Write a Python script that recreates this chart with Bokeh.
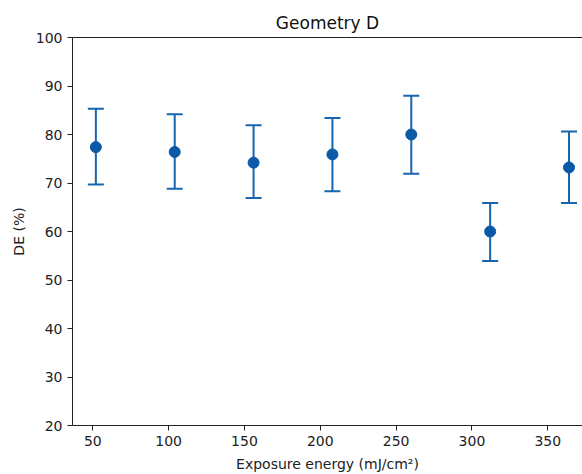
from bokeh.plotting import figure
from bokeh.models import ColumnDataSource, Whisker, TeeHead, LinearAxis, FixedTicker, Range1d
from bokeh.embed import file_html
from bokeh.resources import INLINE

# Data
exposure = [52, 104, 156, 208, 260, 312, 364]
de_mean = [77.4, 76.4, 74.2, 75.9, 80.0, 60.0, 73.2]
de_upper = [85.3, 84.2, 81.9, 83.4, 88.0, 65.9, 80.6]
de_lower = [69.7, 68.8, 66.9, 68.3, 71.9, 53.9, 65.9]
x_ticks = [50, 100, 150, 200, 250, 300, 350]
y_ticks = [20, 30, 40, 50, 60, 70, 80, 90, 100]

src = ColumnDataSource(dict(x=exposure, y=de_mean, upper=de_upper, lower=de_lower))

FONT = "DejaVu Sans"
AX = "#222222"
COL = "#1565b0"

p = figure(width=582, height=474, output_backend="svg", toolbar_location=None,
           x_range=Range1d(36.6, 372.9), y_range=Range1d(20, 100),
           min_border_left=72, min_border_right=0, min_border_top=37, min_border_bottom=48,
           title="Geometry D")
p.title.align = "center"
p.title.offset = 5
p.title.text_font = FONT
p.title.text_font_size = "17px"
p.title.text_font_style = "normal"
p.title.text_color = "#111111"

p.xgrid.visible = False
p.ygrid.visible = False
p.outline_line_color = None

for ax in (p.xaxis[0], p.yaxis[0]):
    ax.major_label_text_font = FONT
    ax.major_label_text_font_size = "14px"
    ax.major_label_text_color = "#222222"
    ax.axis_label_text_font = FONT
    ax.axis_label_text_font_size = "14px"
    ax.axis_label_text_font_style = "normal"
    ax.axis_label_text_color = "#222222"
    ax.axis_line_color = AX
    ax.major_tick_line_color = AX
    ax.major_tick_out = 5
    ax.major_tick_in = 0
    ax.minor_tick_line_color = None

p.xaxis.ticker = FixedTicker(ticks=x_ticks)
p.yaxis.ticker = FixedTicker(ticks=y_ticks)
p.xaxis.axis_label = "Exposure energy (mJ/cm²)"
p.yaxis.axis_label = "DE (%)"
p.xaxis.axis_label_standoff = 7
p.yaxis.axis_label_standoff = 6

top = LinearAxis(ticker=FixedTicker(ticks=[]), major_label_text_font_size="0px",
                 axis_line_color=AX, major_tick_line_color=None, minor_tick_line_color=None)
p.add_layout(top, "above")

w = Whisker(base="x", upper="upper", lower="lower", source=src,
            line_color=COL, line_width=2,
            upper_head=TeeHead(size=16, line_color=COL, line_width=2),
            lower_head=TeeHead(size=16, line_color=COL, line_width=2))
p.add_layout(w)

p.scatter("x", "y", source=src, size=11, fill_color="#0b5aa8", line_color="#0b5aa8")

open("out.html", "w").write(file_html(p, INLINE))
